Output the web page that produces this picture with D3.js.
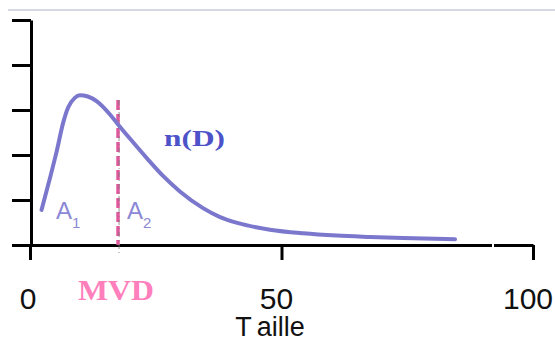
<!DOCTYPE html>
<meta charset="utf-8">
<style>
body { margin: 0; background: #fff; }
.curve { fill: none; stroke: #7b77cc; stroke-width: 4px; stroke-linecap: round; }
.axis path, .axis line { stroke: #000; stroke-width: 3px; }
.tick-label { font-family: Arial, "Liberation Sans", sans-serif; font-size: 30px; fill: #111; }
</style>
<body>
<script src="https://cdn.jsdelivr.net/npm/d3@7/dist/d3.min.js"></script>
<script>

// size distribution n(D)
var taille = [2.3, 4.0, 5.3, 6.6, 7.6, 8.9, 9.9, 11.5, 13.3, 15.9, 17.5, 19.9, 23.3, 26.4, 29.8, 34.4, 37.8, 41.2, 47.7, 54.3, 61.0, 67.6, 74.2, 84.5];
var nD     = [0.78, 1.50, 2.08, 2.72, 3.06, 3.27, 3.33, 3.30, 3.19, 2.90, 2.68, 2.36, 1.92, 1.54, 1.19, 0.82, 0.62, 0.49, 0.34, 0.26, 0.21, 0.18, 0.155, 0.13];
var xTicks = [0, 50, 100];
var yTicks = [0, 1, 2, 3, 4, 5];
var mvd = 17.5;

var data = taille.map(function(d, i) { return {x: d, y: nD[i]}; });

var width = 555, height = 344;

var x = d3.scaleLinear().domain([0, 100]).range([30, 533]);
var y = d3.scaleLinear().domain([0, 5]).range([245, 20]);

var svg = d3.select("body").append("svg")
    .attr("width", width)
    .attr("height", height);

// faint line at the top
svg.append("line")
    .attr("x1", 8).attr("x2", width)
    .attr("y1", 10).attr("y2", 10)
    .attr("stroke", "#c9cdd8").attr("stroke-width", 1.5);

// y axis, ticks only
var yAxis = d3.axisLeft(y).tickValues(yTicks).tickSize(19).tickSizeOuter(0).tickFormat("");
svg.append("g")
    .attr("class", "axis")
    .attr("transform", "translate(" + 31 + ",0)")
    .call(yAxis);

// x axis, ticks pointing down
var xAxis = d3.axisBottom(x).tickValues(xTicks).tickSize(15).tickSizeOuter(0).tickFormat("");
svg.append("g")
    .attr("class", "axis")
    .attr("transform", "translate(0," + y(0) + ")")
    .call(xAxis);

// small gap in the x axis line
svg.append("rect")
    .attr("x", 492).attr("y", y(0) - 3)
    .attr("width", 2).attr("height", 6)
    .attr("fill", "#fff");

// tick labels
svg.selectAll(".tick-label")
    .data(xTicks)
  .enter().append("text")
    .attr("class", "tick-label")
    .attr("x", function(d) { return x(d) - (d === 0 ? 2 : 5); })
    .attr("y", 309)
    .attr("text-anchor", "middle")
    .text(function(d) { return d; });

// axis title
var title = svg.append("text")
    .attr("x", 270).attr("y", 336)
    .attr("text-anchor", "middle")
    .style("font-family", "Arial, 'Liberation Sans', sans-serif")
    .style("font-size", "27px")
    .attr("fill", "#111");
title.append("tspan").text("T");
title.append("tspan").attr("dx", 8).text("aille");

// MVD dashed marker
svg.append("line")
    .attr("x1", x(mvd)).attr("x2", x(mvd))
    .attr("y1", 100).attr("y2", y(0))
    .attr("stroke", "#e0589c").attr("stroke-width", 3.5)
    .attr("stroke-dasharray", "10,4");
svg.append("line")
    .attr("x1", x(mvd) + 1).attr("x2", x(mvd) + 1)
    .attr("y1", 100).attr("y2", y(0) + 8)
    .attr("stroke", "#777").attr("stroke-width", 0.8)
    .attr("stroke-dasharray", "5,3,1,3");

// the curve
var line = d3.line()
    .x(function(d) { return x(d.x); })
    .y(function(d) { return y(d.y); })
    .curve(d3.curveMonotoneX);

svg.append("path")
    .datum(data)
    .attr("class", "curve")
    .attr("d", line);

// labels
svg.append("text")
    .attr("x", 164).attr("y", 146)
    .attr("textLength", 61).attr("lengthAdjust", "spacingAndGlyphs")
    .style("font-family", "'Liberation Serif', 'DejaVu Serif', serif")
    .style("font-weight", "bold")
    .style("font-size", "24px")
    .attr("fill", "#4d52c9")
    .text("n(D)");

svg.append("text")
    .attr("x", 78).attr("y", 300)
    .attr("textLength", 76).attr("lengthAdjust", "spacingAndGlyphs")
    .style("font-family", "'Liberation Serif', 'DejaVu Serif', serif")
    .style("font-weight", "bold")
    .style("font-size", "29px")
    .attr("fill", "#ff7fbd")
    .text("MVD");

var areas = [{name: "A", sub: "1", px: 56}, {name: "A", sub: "2", px: 127}];
areas.forEach(function(a) {
    var t = svg.append("text")
        .attr("x", a.px).attr("y", 219)
        .style("font-family", "Arial, 'Liberation Sans', sans-serif")
        .style("font-size", "24px")
        .attr("fill", "#8b88d6");
    t.append("tspan").text(a.name);
    t.append("tspan").attr("dy", 9).style("font-size", "15px").text(a.sub);
});

</script>
</body>
